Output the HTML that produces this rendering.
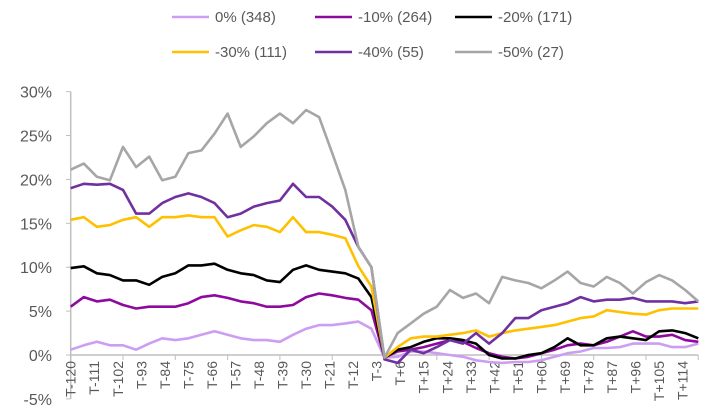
<!DOCTYPE html>
<html><head><meta charset="utf-8"><style>
body{margin:0;background:#fff;}
svg{display:block;font-family:"Liberation Sans",sans-serif;}
</style></head><body>
<svg id="c" width="711" height="420"></svg>
<script>
const days=[-120,-115,-110,-105,-100,-95,-90,-85,-80,-75,-70,-65,-60,-55,-50,-45,-40,-35,-30,-25,-20,-15,-10,-5,0,5,10,15,20,25,30,35,40,45,50,55,60,65,70,75,80,85,90,95,100,105,110,115,120];
const s0=[0.6,1.1,1.5,1.1,1.1,0.6,1.3,1.9,1.7,1.9,2.3,2.7,2.3,1.9,1.7,1.7,1.5,2.3,3.0,3.4,3.4,3.6,3.8,3.0,-0.3,-0.2,0.4,0.4,0.2,0,-0.2,-0.6,-0.8,-0.9,-0.8,-0.8,-0.6,-0.2,0.2,0.4,0.8,0.8,0.9,1.3,1.3,1.3,0.9,0.9,1.3];
const s10=[5.5,6.6,6.1,6.3,5.7,5.3,5.5,5.5,5.5,5.9,6.6,6.8,6.5,6.1,5.9,5.5,5.5,5.7,6.6,7.0,6.8,6.5,6.3,5.1,-0.3,0.4,0.6,0.9,1.3,1.7,1.5,0.8,0.2,-0.2,-0.4,-0.2,0.2,0.6,1.1,1.3,1.1,1.5,2.1,2.7,2.1,2.1,2.3,1.7,1.5];
const s20=[9.9,10.1,9.3,9.1,8.5,8.5,8.0,8.9,9.3,10.2,10.2,10.4,9.7,9.3,9.1,8.5,8.3,9.7,10.2,9.7,9.5,9.3,8.7,6.6,-0.3,0.6,0.9,1.5,1.9,1.9,1.7,1.3,0,-0.4,-0.4,0,0.2,0.9,1.9,1.1,1.1,1.9,2.1,1.9,1.7,2.7,2.8,2.5,1.9];
const s30=[15.4,15.7,14.6,14.8,15.4,15.7,14.6,15.7,15.7,15.9,15.7,15.7,13.5,14.2,14.8,14.6,14.0,15.7,14.0,14.0,13.7,13.3,10.1,7.8,-0.3,0.9,1.9,2.1,2.1,2.3,2.5,2.8,2.1,2.5,2.8,3.0,3.2,3.4,3.8,4.2,4.4,5.1,4.9,4.7,4.6,5.1,5.3,5.3,5.3];
const s40=[19.0,19.5,19.4,19.5,18.8,16.1,16.1,17.3,18.0,18.4,18.0,17.3,15.7,16.1,16.9,17.3,17.6,19.5,18.0,18.0,16.9,15.4,12.3,10.0,-0.5,-0.9,0.6,0.2,0.9,1.7,1.3,2.5,1.3,2.5,4.2,4.2,5.1,5.5,5.9,6.6,6.1,6.3,6.3,6.5,6.1,6.1,6.1,5.9,6.1];
const s50=[21.1,21.8,20.3,19.9,23.7,21.4,22.6,19.9,20.3,23.0,23.3,25.2,27.5,23.7,24.9,26.4,27.5,26.4,27.9,27.1,23.0,18.8,12.3,10.0,-0.3,2.5,3.6,4.7,5.5,7.4,6.5,7.0,5.9,8.9,8.5,8.2,7.6,8.5,9.5,8.2,7.8,8.9,8.2,7.0,8.3,9.1,8.5,7.4,6.1];
const series=[[s0,"#cc9ef2","0% (348)"],[s10,"#8e0a9e","-10% (264)"],[s20,"#000000","-20% (171)"],[s30,"#ffc000","-30% (111)"],[s40,"#7030a0","-40% (55)"],[s50,"#a6a6a6","-50% (27)"]];
const yTicks=[30,25,20,15,10,5,0,-5];
const xLabelDays=[];for(let d=-120;d<=120;d+=9)xLabelDays.push(d);
const X=d=>70.7+(d+120)*2.615;
const Y=v=>355-v*8.78;
const NS="http://www.w3.org/2000/svg";
const svg=document.getElementById('c');
function mk(t,a,p){const e=document.createElementNS(NS,t);for(const k in a)e.setAttribute(k,a[k]);(p||svg).appendChild(e);return e;}
// axes
const ya=mk('line',{x1:70.7,x2:70.7,y1:Y(30),y2:Y(-5),stroke:'#bfbfbf','stroke-width':1.5});


yTicks.forEach(v=>{
 mk('line',{x1:66,x2:70.7,y1:Y(v),y2:Y(v),stroke:'#bfbfbf'});
 const t=mk('text',{x:52,y:Y(v)+6,'text-anchor':'end','font-size':16,fill:'#595959'});
 t.textContent=v+'%';
 
 
});
const xa=mk('line',{x1:70.7,x2:X(120),y1:Y(0),y2:Y(0),stroke:'#bfbfbf','stroke-width':1.5});


for(let d=-100;d<=120;d+=20)mk('line',{x1:X(d),x2:X(d),y1:Y(0),y2:Y(0)+5,stroke:'#bfbfbf'});
xLabelDays.forEach(d=>{
 const lab=d<0?'T'+d:(d===0?'T':'T+'+d);
 const x=X(d)+5,y=361;
 const t=mk('text',{x:x,y:y,transform:`rotate(-90 ${x} ${y})`,'text-anchor':'end','font-size':14,fill:'#595959'});
 t.textContent=lab;
 
 
});
series.forEach(([vals,col,name])=>{
 const p=mk('polyline',{points:vals.map((v,i)=>X(days[i]).toFixed(1)+','+Y(v).toFixed(1)).join(' '),fill:'none',stroke:col,'stroke-width':2.6,'stroke-linejoin':'round'});
 
 
});
// legend
const lx=[172,315,455],ly=[17,52];
series.forEach(([vals,col,name],i)=>{
 const x=lx[i%3],y=ly[Math.floor(i/3)];
 const g=mk('g',{});
 
 
 mk('line',{x1:x,x2:x+37,y1:y,y2:y,stroke:col,'stroke-width':2.6},g);
 const t=mk('text',{x:x+43,y:y+5,'font-size':15,fill:'#595959'},g);
 t.textContent=name;
});
</script>
</body></html>
